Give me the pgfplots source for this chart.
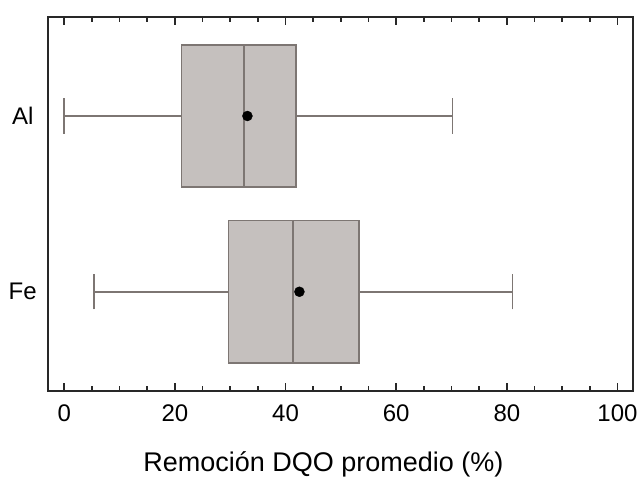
\documentclass[border=0pt]{standalone}
\usepackage{fontspec}
\setmainfont{Liberation Sans}
\usepackage{pgfplots}
\pgfplotsset{compat=1.18}
\usepgfplotslibrary{statistics}
\definecolor{boxfill}{RGB}{197,192,190}
\definecolor{boxedge}{RGB}{125,118,115}
\definecolor{frameclr}{RGB}{40,40,40}
\begin{document}
\begin{tikzpicture}
\path[use as bounding box] (-47.7pt,-86.3pt) rectangle (589.3pt,390.7pt);
\begin{axis}[
  at={(0,0)}, anchor=south west,
  scale only axis, width=585.3pt, height=374pt,
  xmin=-3.0, xmax=102.8, ymin=0.437, ymax=2.565,
  axis line style={frameclr, line width=2pt},
  xtick={0,20,40,60,80,100},
  minor x tick num=3,
  xtick pos=both, tick align=inside,
  major tick length=8pt, minor tick length=5pt,
  every tick/.style={frameclr, line width=1.6pt},
  ytick={1,2}, yticklabels={Fe,Al},
  ytick style={draw=none},
  yticklabel style={anchor=center, xshift=-25pt},
  xticklabel style={anchor=base, yshift=-31pt},
  /pgf/number format/assume math mode=true,
  tick label style={font=\fontsize{24}{28}\selectfont},
  label style={font=\fontsize{27}{31}\selectfont},
  xlabel={Remoción DQO promedio (\%)},
  xlabel style={at={(axis description cs:0.5,0)}, anchor=base, yshift=-81pt, xshift=-17pt},
  boxplot/draw direction=x,
  boxplot/box extend=0.81,
  boxplot/whisker extend=0.2,
]
\addplot[boxplot prepared={lower whisker=0, lower quartile=21.2, median=32.5,
  upper quartile=41.9, upper whisker=70.2, draw position=2},
  fill=boxfill, draw=boxedge, line width=1.6pt] coordinates {};
\addplot[boxplot prepared={lower whisker=5.4, lower quartile=29.7, median=41.3,
  upper quartile=53.3, upper whisker=81.0, draw position=1},
  fill=boxfill, draw=boxedge, line width=1.6pt] coordinates {};
\addplot[only marks, mark=*, mark size=5pt, black] coordinates {(33.1,2) (42.5,1)};
\end{axis}
\end{tikzpicture}
\end{document}
